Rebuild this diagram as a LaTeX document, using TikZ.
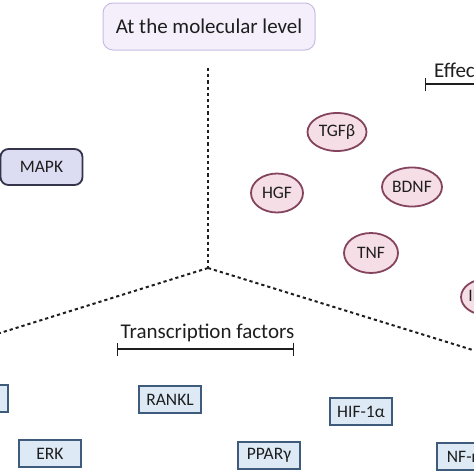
\documentclass[tikz,border=0pt]{standalone}
\usepackage{fontspec}
\setmainfont{Carlito}
\usetikzlibrary{arrows.meta,shapes.geometric}
\definecolor{txt}{HTML}{1E1E1E}
\definecolor{titlefill}{HTML}{F4EFFB}
\definecolor{titledraw}{HTML}{C9BCE3}
\definecolor{mapkfill}{HTML}{DCDCF2}
\definecolor{mapkdraw}{HTML}{34344A}
\definecolor{elfill}{HTML}{F6DEE7}
\definecolor{eldraw}{HTML}{84445D}
\definecolor{tffill}{HTML}{DDEAF6}
\definecolor{tfdraw}{HTML}{3E5B7C}
\tikzset{
  titlebox/.style={draw=titledraw, fill=titlefill, line width=1pt, rounded corners=10pt, minimum width=212pt, minimum height=47pt, font=\fontsize{21}{23}\selectfont, text=txt},
  kinbox/.style={draw=mapkdraw, fill=mapkfill, line width=1.8pt, rounded corners=8pt, minimum width=82pt, minimum height=36pt, font=\fontsize{17.5}{20}\selectfont, text=txt},
  factor/.style={ellipse, draw=eldraw, fill=elfill, line width=1.8pt, inner sep=0pt, font=\fontsize{17.5}{19}\selectfont, text=txt},
  tfbox/.style={draw=tfdraw, fill=tffill, line width=1.8pt, minimum width=62pt, minimum height=27pt, inner sep=0pt, font=\fontsize{17.5}{19}\selectfont, text=txt},
  divider/.style={line width=2pt, dash pattern=on 3.2pt off 3pt, color=txt},
  heading/.style={font=\fontsize{21}{23}\selectfont, text=txt, inner sep=0pt},
  spanbar/.style={line width=1.4pt, color=txt, {Bar[width=13pt,line width=1.4pt]}-{Bar[width=13pt,line width=1.4pt]}}
}
\begin{document}
\begin{tikzpicture}[x=1pt,y=-1pt]
\useasboundingbox (0,0) rectangle (474,474);
\clip (0,0) rectangle (474,474);
% title
\node[titlebox] (title) at (209,26.5) {At the molecular level};
% dividers
\coordinate (top) at (208,68);
\coordinate (j) at (208,268);
\coordinate (lend) at (0,333);
\coordinate (rend) at (476,351);
\draw[divider] (top) -- (j);
\draw[divider] (j) -- (lend);
\draw[divider] (j) -- (rend);
% left: kinase
\node[kinbox] (mapk) at (41.5,167) {MAPK};
% right: effectors heading
\node[heading, anchor=west] (eff) at (434,70) {Effectors};
\coordinate (effa) at (425,84);
\coordinate (effb) at (520,84);
\draw[spanbar] (effa) -- (effb);
% ellipses
\node[factor, minimum width=59pt, minimum height=38pt] (tgf) at (337,132) {TGFβ};
\node[factor, minimum width=52pt, minimum height=39pt] (hgf) at (277,193) {HGF};
\node[factor, minimum width=60pt, minimum height=39pt] (bdnf) at (412,187) {BDNF};
\node[factor, minimum width=54pt, minimum height=40pt] (tnf) at (371,253) {TNF};
\node[factor, minimum width=48pt, minimum height=36pt] (il) at (486,297) {IL-1β};
% transcription factors heading
\node[heading] (tfh) at (207.5,333) {Transcription factors};
\coordinate (tfa) at (117,349);
\coordinate (tfb) at (294,349);
\draw[spanbar] (tfa) -- (tfb);
% boxes
\node[tfbox, anchor=east, inner xsep=2pt] (runx) at (9,398.5) {Runx2};
\node[tfbox] (rankl) at (170,399.5) {RANKL};
\node[tfbox] (hif) at (361,411.5) {HIF-1α};
\node[tfbox] (erk) at (50,453.5) {ERK};
\node[tfbox] (ppar) at (269,455.5) {PPARγ};
\node[tfbox] (nfkb) at (468,456.5) {NF-κB};
\end{tikzpicture}
\end{document}
